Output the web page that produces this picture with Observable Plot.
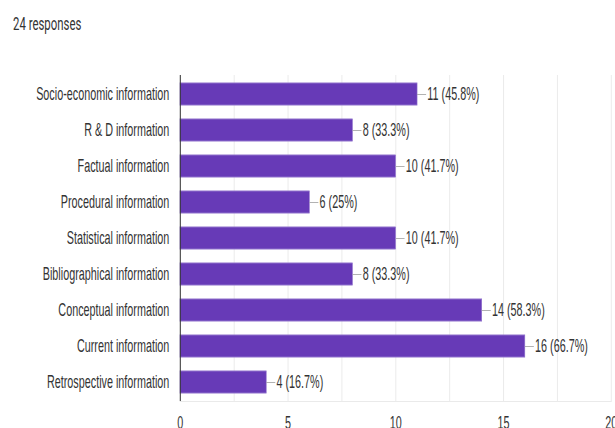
<!DOCTYPE html>
<html>
<head>
<meta charset="utf-8">
<script src="https://cdn.jsdelivr.net/npm/d3@7"></script>
<script src="https://cdn.jsdelivr.net/npm/@observablehq/plot@0.6"></script>
<style>
  html, body { margin: 0; padding: 0; background: #fff; }
  #title { position: relative; height: 47px; width: 615px; }
  #title span {
    position: absolute; left: 13px; top: 14px;
    font-family: Roboto, "Liberation Sans", Arial, sans-serif;
    font-size: 19px; line-height: 19px; color: #333;
    transform: scaleX(0.6); transform-origin: left center; white-space: nowrap;
  }
</style>
</head>
<body>
<div id="title"><span>24 responses</span></div>
<div id="chart"></div>
<script>
const categories = [
  "Socio-economic information",
  "R & D information",
  "Factual information",
  "Procedural information",
  "Statistical information",
  "Bibliographical information",
  "Conceptual information",
  "Current information",
  "Retrospective information"
];
const counts = [11, 8, 10, 6, 10, 8, 14, 16, 4];
const percents = ["45.8%", "33.3%", "41.7%", "25%", "41.7%", "33.3%", "58.3%", "66.7%", "16.7%"];
const xTicks = [0, 5, 10, 15, 20];
const gridTicks = [0, 2.5, 5, 7.5, 10, 12.5, 15, 17.5, 20];

const data = categories.map((c, i) => ({category: c, count: counts[i], pct: percents[i]}));

const S = 0.6;          // horizontal squeeze of the reference rendering
const W = 615 / S;
const H = 381;

const svg = Plot.plot({
  width: W,
  height: H,
  marginLeft: 180 / S,
  marginRight: 4 / S,
  marginTop: 28,
  marginBottom: 27,
  style: {fontFamily: "'Liberation Sans', Arial, sans-serif", fontSize: "18px", color: "#333", background: "#fff"},
  x: {domain: [0, 20], ticks: xTicks, tickSize: 0, tickPadding: 15, label: null},
  y: {domain: categories, paddingInner: 0.39, paddingOuter: 0.195, tickSize: 0, tickPadding: 11 / S, label: null},
  marks: [
    Plot.ruleX(gridTicks, {stroke: "#ebebeb", strokeWidth: 1 / S}),
    Plot.frame({anchor: "bottom", stroke: "#e4e4e4"}),
    Plot.barX(data, {x: "count", y: "category", fill: "#673ab7", stroke: "#8f70cc", strokeWidth: 1}),
    Plot.ruleX([0], {stroke: "#333", strokeWidth: 1 / S}),
    Plot.ruleY(data, {y: "category", x1: "count", x2: d => d.count + 0.42, stroke: "#9e9e9e", strokeWidth: 1}),
    Plot.text(data, {
      x: "count", y: "category",
      text: d => `${d.count} (${d.pct})`,
      textAnchor: "start", dx: 10 / S, fill: "#333", fontSize: 18
    })
  ]
});

svg.setAttribute("preserveAspectRatio", "none");
svg.style.width = "615px";
svg.style.height = H + "px";
svg.style.maxWidth = "none";
document.getElementById("chart").appendChild(svg);
</script>
</body>
</html>
